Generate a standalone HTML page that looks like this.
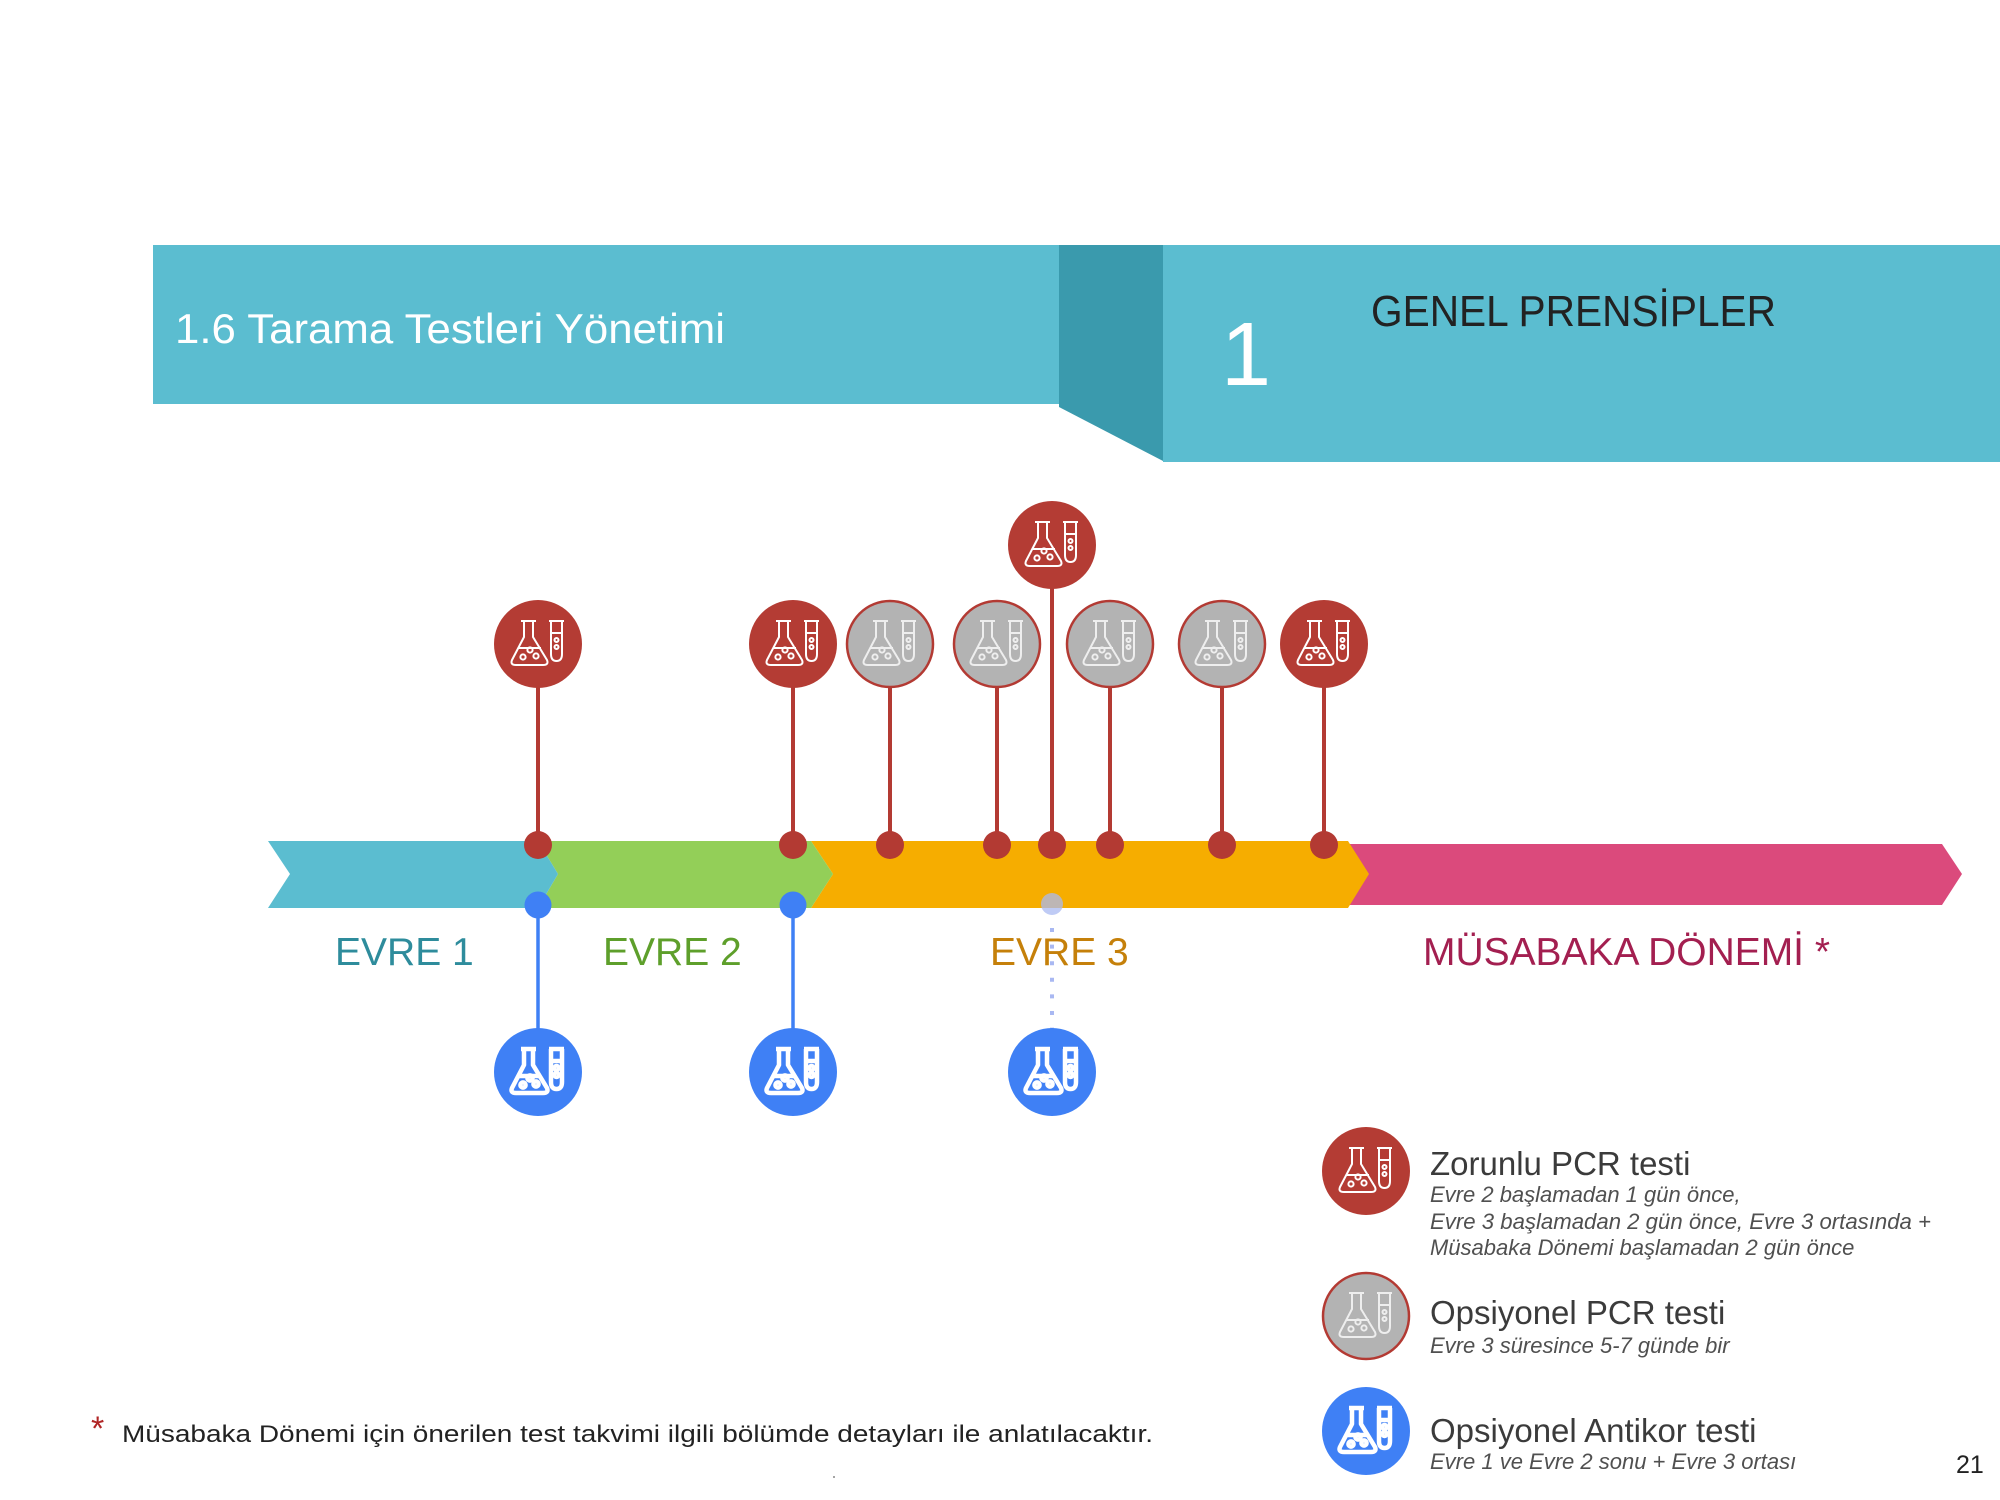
<!DOCTYPE html>
<html>
<head>
<meta charset="utf-8">
<style>
html,body{margin:0;padding:0;background:#fff;}
svg{display:block;}
text{font-family:"Liberation Sans",sans-serif;}
</style>
</head>
<body>
<svg width="2000" height="1500" viewBox="0 0 2000 1500" xmlns="http://www.w3.org/2000/svg">
<defs>
  <g id="ico">
    <path d="M-17 -23 H-2 M-14 -23 V-7 L-26 16 Q-28 21 -22 21 H5 Q11 21 9 16 L-5 -7 V-23" fill="none" stroke-linejoin="round"/>
    <path d="M-20 4 H3" fill="none"/>
    <circle cx="-15" cy="13" r="2.6" fill="none"/>
    <circle cx="-8" cy="6" r="2.6" fill="none"/>
    <circle cx="-2" cy="12" r="2.6" fill="none"/>
    <path d="M11 -23 H26 M13 -23 V10 Q13 17 18.5 17 Q24 17 24 10 V-23 M13 -11 H24" fill="none"/>
    <circle cx="18.5" cy="-4" r="2" fill="none"/>
    <circle cx="18.5" cy="3" r="2" fill="none"/>
  </g>
</defs>

<!-- Header -->
<rect x="153" y="245" width="910" height="159" fill="#5BBDD0"/>
<polygon points="1059,245 1165,245 1165,462 1059,407" fill="#3A9AAD"/>
<rect x="1163" y="245" width="837" height="217" fill="#5BBDD0"/>
<text x="175" y="343" font-size="42" fill="#ffffff" textLength="550" lengthAdjust="spacingAndGlyphs">1.6 Tarama Testleri Yönetimi</text>
<text x="1371" y="326" font-size="44" fill="#222222" textLength="405" lengthAdjust="spacingAndGlyphs">GENEL PRENSİPLER</text>
<text x="1221" y="385" font-size="90" fill="#ffffff">1</text>

<!-- Timeline chevrons (drawn right to left) -->
<polygon points="1348,844 1942,844 1962,874 1942,905 1348,905" fill="#DB4A7C"/>
<polygon points="811,841 1348,841 1369,874 1348,908 811,908 833,874" fill="#F6AD00"/>
<polygon points="538,841 811,841 833,874 811,908 538,908 558,874" fill="#93CF58"/>
<polygon points="268,841 538,841 558,874 538,908 268,908 290,874" fill="#5BBDD0"/>

<!-- Red stems -->
<g stroke="#B33A33" stroke-width="4">
  <line x1="538" y1="686" x2="538" y2="845"/>
  <line x1="793" y1="686" x2="793" y2="845"/>
  <line x1="890" y1="686" x2="890" y2="845"/>
  <line x1="997" y1="686" x2="997" y2="845"/>
  <line x1="1052" y1="587" x2="1052" y2="845"/>
  <line x1="1110" y1="686" x2="1110" y2="845"/>
  <line x1="1222" y1="686" x2="1222" y2="845"/>
  <line x1="1324" y1="686" x2="1324" y2="845"/>
</g>
<g fill="#B33A33">
  <circle cx="538" cy="845" r="14"/>
  <circle cx="793" cy="845" r="14"/>
  <circle cx="890" cy="845" r="14"/>
  <circle cx="997" cy="845" r="14"/>
  <circle cx="1052" cy="845" r="14"/>
  <circle cx="1110" cy="845" r="14"/>
  <circle cx="1222" cy="845" r="14"/>
  <circle cx="1324" cy="845" r="14"/>
</g>

<!-- Top circles -->
<g>
  <circle cx="538" cy="644" r="44" fill="#B43C34"/>
  <use href="#ico" x="538" y="644" stroke="#ffffff" stroke-width="2"/>
  <circle cx="793" cy="644" r="44" fill="#B43C34"/>
  <use href="#ico" x="793" y="644" stroke="#ffffff" stroke-width="2"/>
  <circle cx="890" cy="644" r="43" fill="#B3B3B3" stroke="#B33A33" stroke-width="2.5"/>
  <use href="#ico" x="890" y="644" stroke="#eeeeee" stroke-width="2"/>
  <circle cx="997" cy="644" r="43" fill="#B3B3B3" stroke="#B33A33" stroke-width="2.5"/>
  <use href="#ico" x="997" y="644" stroke="#eeeeee" stroke-width="2"/>
  <circle cx="1052" cy="545" r="44" fill="#B43C34"/>
  <use href="#ico" x="1052" y="545" stroke="#ffffff" stroke-width="2"/>
  <circle cx="1110" cy="644" r="43" fill="#B3B3B3" stroke="#B33A33" stroke-width="2.5"/>
  <use href="#ico" x="1110" y="644" stroke="#eeeeee" stroke-width="2"/>
  <circle cx="1222" cy="644" r="43" fill="#B3B3B3" stroke="#B33A33" stroke-width="2.5"/>
  <use href="#ico" x="1222" y="644" stroke="#eeeeee" stroke-width="2"/>
  <circle cx="1324" cy="644" r="44" fill="#B43C34"/>
  <use href="#ico" x="1324" y="644" stroke="#ffffff" stroke-width="2"/>
</g>

<!-- Blue stems -->
<g stroke="#3F80F5" stroke-width="3.5">
  <line x1="538" y1="905" x2="538" y2="1030"/>
  <line x1="793" y1="905" x2="793" y2="1030"/>
</g>
<line x1="1052" y1="928" x2="1052" y2="1030" stroke="#A9B8F2" stroke-width="4" stroke-dasharray="4 12.6"/>
<circle cx="538" cy="905" r="13.5" fill="#3F80F5"/>
<circle cx="793" cy="905" r="13.5" fill="#3F80F5"/>
<circle cx="1052" cy="904" r="11" fill="#A9B9F2" fill-opacity="0.75"/>

<!-- Blue circles -->
<circle cx="538" cy="1072" r="44" fill="#3F80F5"/>
<use href="#ico" x="538" y="1072" stroke="#ffffff" stroke-width="4.5"/>
<circle cx="793" cy="1072" r="44" fill="#3F80F5"/>
<use href="#ico" x="793" y="1072" stroke="#ffffff" stroke-width="4.5"/>
<circle cx="1052" cy="1072" r="44" fill="#3F80F5"/>
<use href="#ico" x="1052" y="1072" stroke="#ffffff" stroke-width="4.5"/>

<!-- Stage labels -->
<text x="335" y="965" font-size="39" fill="#2E8C9C">EVRE 1</text>
<text x="603" y="965" font-size="39" fill="#5E9F2B">EVRE 2</text>
<text x="990" y="965" font-size="39" fill="#C5800A">EVRE 3</text>
<text x="1423" y="965" font-size="39" fill="#A31F50" textLength="407" lengthAdjust="spacingAndGlyphs">MÜSABAKA DÖNEMİ *</text>

<!-- Legend -->
<circle cx="1366" cy="1171" r="44" fill="#B43C34"/>
<use href="#ico" x="1366" y="1171" stroke="#ffffff" stroke-width="2"/>
<circle cx="1366" cy="1316" r="43" fill="#B3B3B3" stroke="#B33A33" stroke-width="2.5"/>
<use href="#ico" x="1366" y="1316" stroke="#eeeeee" stroke-width="2"/>
<circle cx="1366" cy="1431" r="44" fill="#3F80F5"/>
<use href="#ico" x="1366" y="1431" stroke="#ffffff" stroke-width="4.5"/>

<text x="1430" y="1175" font-size="33" fill="#3b3b3b">Zorunlu PCR testi</text>
<g font-size="22" font-style="italic" fill="#505050">
  <text x="1430" y="1202">Evre 2 başlamadan 1 gün önce,</text>
  <text x="1430" y="1229" textLength="501" lengthAdjust="spacingAndGlyphs">Evre 3 başlamadan 2 gün önce, Evre 3 ortasında +</text>
  <text x="1430" y="1255">Müsabaka Dönemi başlamadan 2 gün önce</text>
  <text x="1430" y="1353">Evre 3 süresince 5-7 günde bir</text>
  <text x="1430" y="1469">Evre 1 ve Evre 2 sonu + Evre 3 ortası</text>
</g>
<text x="1430" y="1324" font-size="33" fill="#3b3b3b">Opsiyonel PCR testi</text>
<text x="1430" y="1442" font-size="33" fill="#3b3b3b">Opsiyonel Antikor testi</text>

<text x="1956" y="1473" font-size="25" fill="#222222">21</text>

<!-- Footer -->
<text x="91" y="1440" font-size="34" fill="#B02525">*</text>
<text x="122" y="1442" font-size="24" fill="#222222" textLength="1031" lengthAdjust="spacingAndGlyphs">Müsabaka Dönemi için önerilen test takvimi ilgili bölümde detayları ile anlatılacaktır.</text>
<circle cx="834" cy="1477" r="1" fill="#888"/>
</svg>
</body>
</html>
